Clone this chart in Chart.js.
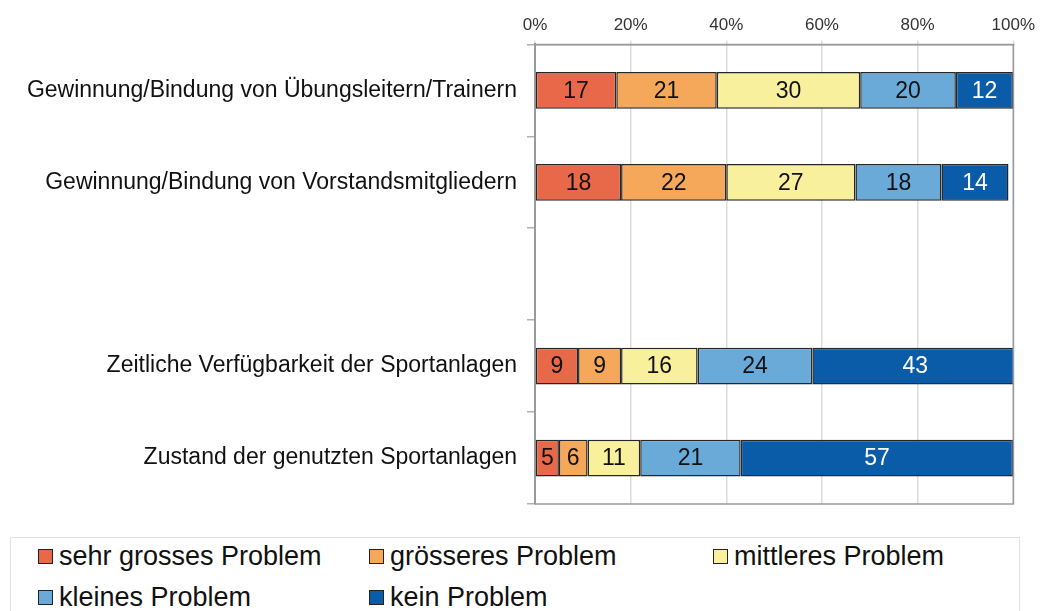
<!DOCTYPE html>
<html>
<head>
<meta charset="utf-8">
<script src="https://cdn.jsdelivr.net/npm/chart.js@4/dist/chart.umd.min.js"></script>
<style>
  body { margin: 0; background: #fff; font-family: "Liberation Sans", Arial, sans-serif; }
  #wrap { position: relative; width: 1040px; height: 611px; overflow: hidden; }
  #chartBox { position: absolute; left: 0; top: 0; width: 1040px; height: 530px; }
  #legend {
    position: absolute; left: 10px; top: 537px; width: 1010px; height: 90px;
    border: 1px solid #e2e2e2; box-sizing: border-box;
  }
  .item { position: absolute; display: flex; align-items: center; font-size: 27px; color: #111; white-space: nowrap; }
  .sw { width: 13px; height: 13px; border: 1.5px solid #222; margin-right: 6px; }
</style>
</head>
<body>
<div id="wrap">
  <div id="chartBox"><canvas id="chart"></canvas></div>
  <div id="legend"></div>
</div>
<script>
// categories (the empty one is the gap between the two groups)
const categories = [
  "Gewinnung/Bindung von Übungsleitern/Trainern",
  "Gewinnung/Bindung von Vorstandsmitgliedern",
  "",
  "Zeitliche Verfügbarkeit der Sportanlagen",
  "Zustand der genutzten Sportanlagen"
];
const seriesNames = ["sehr grosses Problem", "grösseres Problem", "mittleres Problem", "kleines Problem", "kein Problem"];
const sehrGross = [17, 18, null, 9, 5];
const groesser = [21, 22, null, 9, 6];
const mittel = [30, 27, null, 16, 11];
const klein = [20, 18, null, 24, 21];
const kein = [12, 14, null, 43, 57];
const xTicks = [0, 20, 40, 60, 80, 100];

const colors = ["#e8694a", "#f5a85a", "#f8f09c", "#6aaad9", "#0a5ca8"];
const allData = [sehrGross, groesser, mittel, klein, kein];

// numbers inside the segments
const valueLabels = {
  id: "valueLabels",
  afterDatasetsDraw(chart) {
    const ctx = chart.ctx;
    ctx.save();
    ctx.font = '23px "Liberation Sans", Arial, sans-serif';
    ctx.textAlign = "center";
    ctx.textBaseline = "middle";
    chart.data.datasets.forEach((ds, i) => {
      const meta = chart.getDatasetMeta(i);
      meta.data.forEach((bar, j) => {
        const v = ds.data[j];
        if (v == null) return;
        ctx.fillStyle = i === 4 ? "#fff" : "#111";
        ctx.fillText(String(v), (bar.x + bar.base) / 2, bar.y + 1);
      });
    });
    ctx.restore();
  }
};

// grey frame round the plot
const frame = {
  id: "frame",
  afterDatasetsDraw(chart) {
    const a = chart.chartArea;
    const ctx = chart.ctx;
    ctx.save();
    ctx.strokeStyle = "#9a9a9a";
    ctx.lineWidth = 1.5;
    ctx.beginPath();
    ctx.moveTo(a.left, a.top);
    ctx.lineTo(a.right, a.top);
    ctx.lineTo(a.right, a.bottom);
    ctx.lineTo(a.left, a.bottom);
    ctx.stroke();
    ctx.restore();
  }
};

const myChart = new Chart(document.getElementById("chart"), {
  type: "bar",
  data: {
    labels: categories,
    datasets: allData.map((d, i) => ({
      label: seriesNames[i],
      data: d,
      backgroundColor: colors[i],
      borderColor: "#262626",
      borderWidth: 1.5,
      borderSkipped: false,
      categoryPercentage: 1,
      barPercentage: 0.4
    }))
  },
  options: {
    indexAxis: "y",
    responsive: true,
    maintainAspectRatio: false,
    animation: false,
    layout: { padding: { top: 10, right: 22, bottom: 26, left: 0 } },
    plugins: { legend: { display: false }, tooltip: { enabled: false } },
    scales: {
      x: {
        position: "top",
        stacked: true,
        min: 0,
        max: 100,
        afterBuildTicks: (axis) => { axis.ticks = xTicks.map(v => ({ value: v })); },
        ticks: {
          callback: (v) => v + "%",
          color: "#333",
          font: { size: 17, family: '"Liberation Sans", Arial, sans-serif' },
          padding: 5,
          maxRotation: 0
        },
        grid: { color: "#dcdcdc", lineWidth: 1.5, tickLength: 4 },
        border: { color: "#9a9a9a", width: 1.5 }
      },
      y: {
        stacked: true,
        afterFit: (axis) => { axis.width = 535; },
        ticks: {
          color: "#111",
          font: { size: 23, family: '"Liberation Sans", Arial, sans-serif' },
          padding: 10
        },
        grid: { offset: true, drawOnChartArea: false, tickLength: 8, color: "#b0b0b0", lineWidth: 1.5 },
        border: { color: "#9a9a9a", width: 2 }
      }
    }
  },
  plugins: [valueLabels, frame]
});

// legend in three columns, like the original
const legendPos = [[27, 3], [358, 3], [702, 3], [27, 44], [358, 44]];
const legendEl = document.getElementById("legend");
seriesNames.forEach((name, i) => {
  const item = document.createElement("div");
  item.className = "item";
  item.style.left = legendPos[i][0] + "px";
  item.style.top = legendPos[i][1] + "px";
  item.innerHTML = '<span class="sw" style="background:' + colors[i] + '"></span>' + name;
  legendEl.appendChild(item);
});
</script>
</body>
</html>
